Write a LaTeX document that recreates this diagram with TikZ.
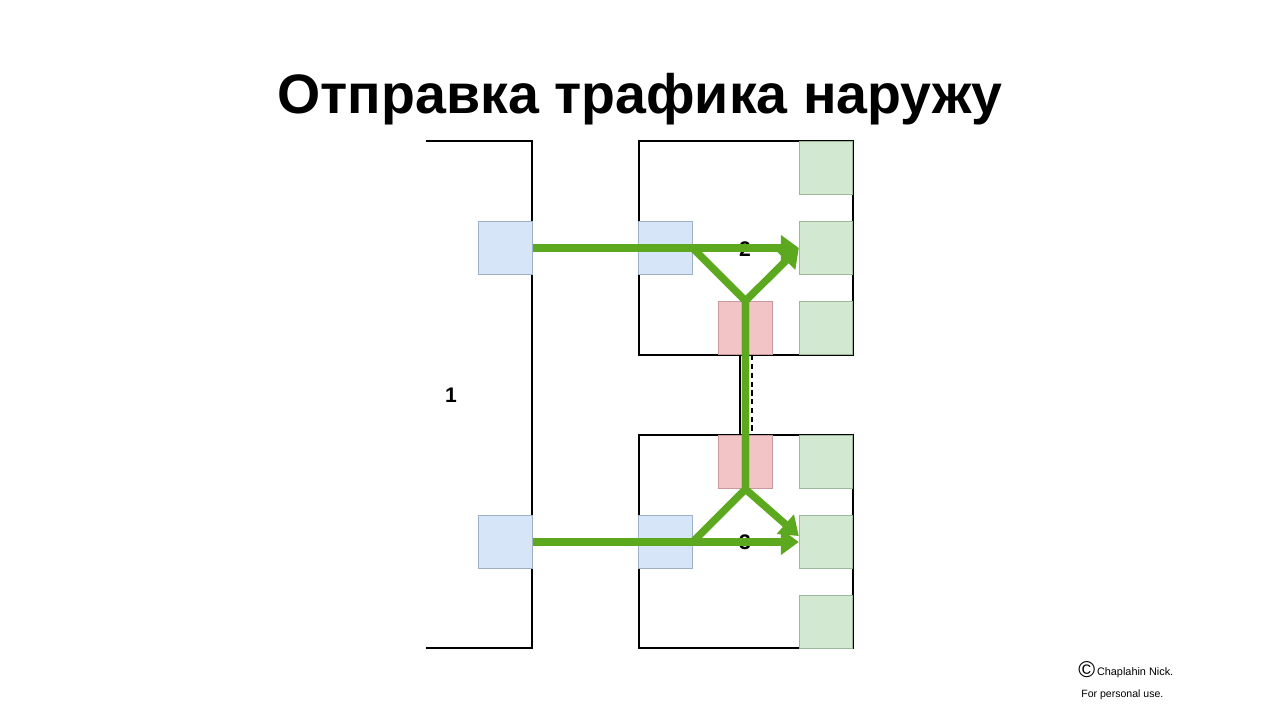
\documentclass[tikz,border=0pt]{standalone}
\usepackage{fontspec}
\setmainfont{Liberation Sans}
\usetikzlibrary{arrows.meta,calc}

\begin{document}
\begin{tikzpicture}[
    x=0.02cm, y=-0.02cm,
    every node/.style={font=\sffamily},
    frame/.style={draw=black, line width=1.1pt},
    port/.style={minimum width=1.07cm, minimum height=1.07cm, inner sep=0pt, line width=0.5pt},
    inport/.style={port, fill=portBlue, draw=portBlueLine},
    outport/.style={port, fill=portGreen, draw=portGreenLine},
    linkport/.style={port, fill=portRed, draw=portRedLine},
    flow/.style={draw=flowGreen, line width=4.2pt, line join=miter,
        -{Triangle[length=0.36cm,width=0.5cm]}},
    tag/.style={font=\bfseries\fontsize{12}{14}\selectfont},
]

\definecolor{portBlue}{HTML}{D6E5F7}
\definecolor{portBlueLine}{HTML}{9FB0C6}
\definecolor{portGreen}{HTML}{D2E8D0}
\definecolor{portGreenLine}{HTML}{9CB89A}
\definecolor{portRed}{HTML}{F2C4C6}
\definecolor{portRedLine}{HTML}{C89A9C}
\definecolor{flowGreen}{HTML}{5CA81F}

% canvas
\path[use as bounding box] (0,0) rectangle (1280,720);

% ============================================================
% TITLE
% ============================================================
\node[font=\bfseries\fontsize{31.6}{38}\selectfont] (title) at (640,99)
    {Отправка трафика наружу};

% ============================================================
% SWITCH 1 (open on the left)
% ============================================================
\draw[frame] (426,141) -- (532,141) -- (532,648) -- (426,648);
\node[tag] (sw1) at (451,395) {1};
\node[inport] (blA) at (505.5,248) {};
\node[inport] (blD) at (505.5,542) {};

% ============================================================
% SWITCH 2 and SWITCH 3
% ============================================================
\node[frame, minimum width=4.28cm, minimum height=4.28cm, inner sep=0pt] (sw2) at (746,248) {};
\node[frame, minimum width=4.28cm, minimum height=4.26cm, inner sep=0pt] (sw3) at (746,541.5) {};

\node[tag] (lab2) at (745,249) {2};
\node[tag] (lab3) at (745,542) {3};

\node[inport] (blB) at (665.5,248) {};
\node[inport] (blC) at (665.5,542) {};
\node[linkport] (pkB) at (745.5,328) {};
\node[linkport] (pkC) at (745.5,462) {};

\foreach \y/\n in {168/1, 248/2, 328/3} {
    \node[outport] (grB\n) at (826,\y) {};
}
\foreach \y/\n in {462/1, 542/2, 622/3} {
    \node[outport] (grC\n) at (826,\y) {};
}

% stack links between 2 and 3
\draw[black, line width=1pt] ([xshift=-0.11cm]pkB.south) -- ([xshift=-0.11cm]pkC.north);
\draw[black, line width=1pt, dash pattern=on 3pt off 2pt] ([xshift=0.13cm]pkB.south) -- ([xshift=0.13cm]pkC.north);

% ============================================================
% TRAFFIC
% ============================================================
\draw[flow] (blA.east) -- (grB2.west);
\draw[flow] (blD.east) -- (grC2.west);
\draw[flow] (blB.east) -- (pkB.north) -- (pkC.south) -- ([yshift=0.12cm]grC2.west);
\draw[flow] (blC.east) -- (pkC.south) -- (pkB.north) -- (grB2.west);

% ============================================================
% FOOTER
% ============================================================
\node[anchor=west, inner sep=0pt, font=\fontsize{6.2}{8}\selectfont] (copy) at (1078,670)
    {\raisebox{-0.22em}{\fontsize{13}{13}\selectfont ©}\,Chaplahin Nick.};
\node[anchor=west, inner sep=0pt, font=\fontsize{6}{7}\selectfont] (use) at (1081,695)
    {For personal use.};

\end{tikzpicture}
\end{document}
